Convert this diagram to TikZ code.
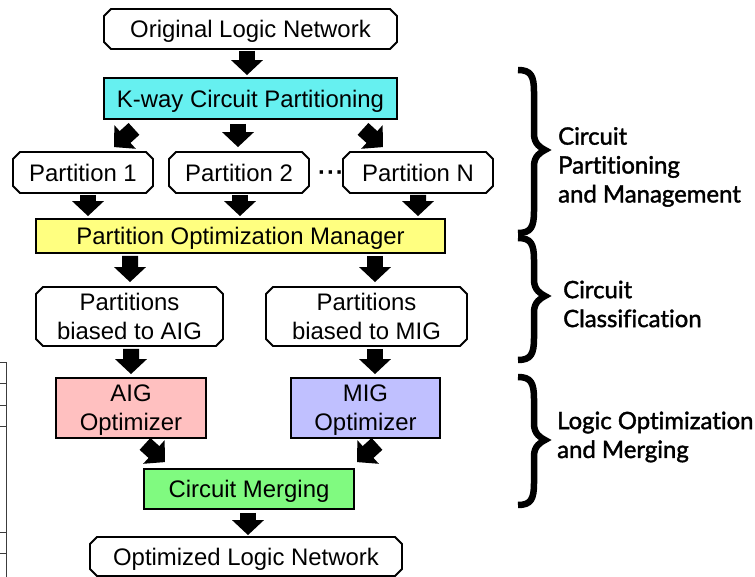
\documentclass[tikz,border=0pt]{standalone}
\usepackage{fontspec}
\setmainfont{Liberation Sans}
\newfontfamily\bracefont{Lato}[Ligatures=NoCommon, FakeBold=1.6]
\usetikzlibrary{arrows.meta,shapes.misc,calc}
\definecolor{kcyan}{RGB}{102,240,240}
\definecolor{pyellow}{RGB}{255,255,128}
\definecolor{apink}{RGB}{255,192,192}
\definecolor{mlav}{RGB}{192,192,255}
\definecolor{mgreen}{RGB}{128,250,128}
\definecolor{tblgray}{RGB}{60,60,60}
\begin{document}
\begin{tikzpicture}[x=1bp,y=-1bp,
  box/.style={draw=black, line width=1.8bp, inner sep=0pt, align=center,
    text depth=0pt, font=\fontsize{24}{29}\selectfont},
  oct/.style={box, chamfered rectangle, chamfered rectangle xsep=3.5bp,
    chamfered rectangle ysep=3.5bp},
  rect/.style={box, rectangle},
  blk/.style={line width=16bp, -{Triangle[length=15bp,width=31bp]}},
  brc/.style={line width=6.5bp, line join=miter},
  lbl/.style={font=\bracefont\fontsize{24}{29}\selectfont,
    align=left, anchor=west, inner sep=0pt},
  tbl/.style={draw=tblgray, line width=1bp}
]
\useasboundingbox (0,0) rectangle (755,577);
\fill[white] (0,0) rectangle (755,577);

% flow boxes
\node[oct, minimum width=293bp, minimum height=40bp] (orig) at (250.5,29) {Original Logic Network};
\node[rect, fill=kcyan, minimum width=293bp, minimum height=41bp] (kway) at (250.5,98.5) {K-way Circuit Partitioning};
\node[oct, minimum width=140bp, minimum height=41bp] (p1) at (83,172.5) {Partition 1};
\node[oct, minimum width=140bp, minimum height=41bp] (p2) at (239,172.5) {Partition 2};
\node[oct, minimum width=150bp, minimum height=41bp] (pn) at (418,172.5) {Partition N};
\node[inner sep=0pt, font=\fontsize{24}{29}\selectfont] (dots) at (331,176) {\textbf{·\kern1pt·\kern1pt·}};
\node[rect, fill=pyellow, minimum width=409bp, minimum height=34bp] (pom) at (240.5,236) {Partition Optimization Manager};
\node[oct, minimum width=187bp, minimum height=59bp] (pa) at (129.5,316.5) {Partitions\\biased to AIG};
\node[oct, minimum width=201bp, minimum height=59bp] (pm) at (366.5,316.5) {Partitions\\biased to MIG};
\node[rect, fill=apink, minimum width=150bp, minimum height=60bp] (aig) at (131,408) {AIG\\Optimizer};
\node[rect, fill=mlav, minimum width=149bp, minimum height=60bp] (mig) at (365.5,408) {MIG\\Optimizer};
\node[rect, fill=mgreen, minimum width=210bp, minimum height=40bp] (merge) at (249,489) {Circuit Merging};
\node[oct, minimum width=312bp, minimum height=39bp] (optn) at (246,556.5) {Optimized Logic Network};

% block arrows
\draw[blk] ($(orig.south)+(-3.5,1)$) -- ($(kway.north)+(-3.5,-2)$);
\draw[blk] ($(kway.south)+(-116.5,9)$) -- ($(p1.north)+(31,-4)$);
\draw[blk] ($(kway.south)+(-12.5,4)$) -- ($(p2.north)+(-1,-4)$);
\draw[blk] ($(kway.south)+(112.5,9)$) -- ($(pn.north)+(-35,-4)$);
\draw[blk] ($(p1.south)+(5,1)$) -- ($(pom.north)+(-152.5,-2)$);
\draw[blk] ($(p2.south)+(1,1)$) -- ($(pom.north)+(-0.5,-2)$);
\draw[blk] ($(pn.south)+(0,1)$) -- ($(pom.north)+(177.5,-2)$);
\draw[blk] ($(pom.south)+(-110.5,2)$) -- ($(pa.north)+(0.5,-4)$);
\draw[blk] ($(pom.south)+(134.5,2)$) -- ($(pm.north)+(8.5,-4)$);
\draw[blk] ($(pa.south)+(1.5,2)$) -- ($(aig.north)+(0,-3)$);
\draw[blk] ($(pm.south)+(8.5,2)$) -- ($(mig.north)+(9.5,-3)$);
\draw[blk] ($(aig.south)+(14,5)$) -- ($(merge.north)+(-84,-6)$);
\draw[blk] ($(mig.south)+(11.5,5)$) -- ($(merge.north)+(108,-6)$);
\draw[blk] ($(merge.south)+(-1,3)$) -- ($(optn.north)+(2,-1)$);

% stage braces
\foreach \t/\m/\b in {70/150/233, 238/296/360, 377/440/505}{
  \draw[brc] (518,\t) .. controls (531,\t) and (534,\t+6) .. (534,\t+22)
    -- (534,\m-16) .. controls (534,\m-6) and (541,\m-2) .. (545,\m)
    .. controls (541,\m+2) and (534,\m+6) .. (534,\m+16)
    -- (534,\b-22) .. controls (534,\b-6) and (531,\b) .. (518,\b);
}
\node[lbl] (s1) at (558,167) {Circuit\\Partitioning\\and Management};
\node[lbl] (s2) at (563,304) {Circuit\\Classification};
\node[lbl] (s3) at (557,437) {Logic Optimization\\and Merging};

% edge of a neighbouring table
\draw[tbl] (6,362) -- (6,577);
\foreach \y in {362,383,405,426,532,553}{
  \draw[tbl] (0,\y) -- (6,\y);
}
\end{tikzpicture}
\end{document}
